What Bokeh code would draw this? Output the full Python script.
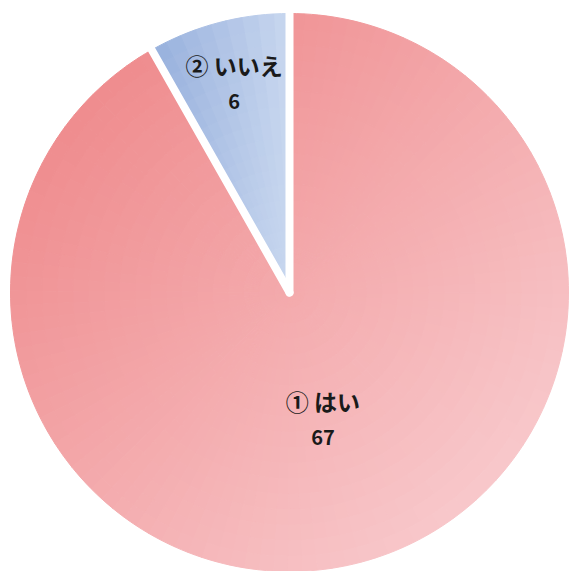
import math
from bokeh.plotting import figure
from bokeh.models import ColumnDataSource, Range1d
from bokeh.core.properties import value
from bokeh.embed import file_html
from bokeh.resources import INLINE

# Survey answers
labels = ["① はい", "② いいえ"]
counts = [67, 6]

W = H = 571
CX, CY, R = 289, 292, 279  # pie centre and radius in screen pixels

p = figure(width=W, height=H, output_backend="svg", toolbar_location=None,
           x_range=Range1d(-CX / R, (W - CX) / R),
           y_range=Range1d(-(H - CY) / R, CY / R),
           min_border=0)
p.axis.visible = False
p.grid.visible = False
p.outline_line_color = None
p.background_fill_color = "white"
p.border_fill_color = "white"

total = sum(counts)
# first slice runs clockwise from twelve o'clock
spans = []
end = math.pi / 2 + 2 * math.pi
for c in counts:
    start = end - 2 * math.pi * c / total
    spans.append((start, end))
    end = start


def lerp(c0, c1, t):
    t = max(0.0, min(1.0, t))
    return "#%02x%02x%02x" % tuple(round(a + (b - a) * t) for a, b in zip(c0, c1))


def pink(x, y):
    t = ((x - y) / math.sqrt(2) + 1) / 2
    return lerp((239, 140, 142), (248, 200, 203), t)


def blue(x, y):
    t = (x + 0.5) / 0.5
    return lerp((150, 175, 220), (200, 215, 239), t)


shaders = [pink, blue]

# each slice is tiled into small annular cells so its fill can shade smoothly
cells = dict(inner=[], outer=[], a0=[], a1=[], color=[])
rings = 18
for (a0, a1), shade in zip(spans, shaders):
    nseg = max(4, int(math.degrees(a1 - a0) / 3))
    for i in range(rings):
        r0 = i / rings
        r1 = (i + 1) / rings
        for j in range(nseg):
            s0 = a0 + (a1 - a0) * j / nseg
            s1 = a0 + (a1 - a0) * (j + 1) / nseg
            rm = (r0 + r1) / 2
            am = (s0 + s1) / 2
            cells["inner"].append(r0)
            cells["outer"].append(r1)
            cells["a0"].append(s0)
            cells["a1"].append(s1)
            cells["color"].append(shade(rm * math.cos(am), rm * math.sin(am)))

p.annular_wedge(x=0, y=0, inner_radius="inner", outer_radius="outer",
                start_angle="a0", end_angle="a1", source=ColumnDataSource(cells),
                fill_color="color", line_color="color", line_width=1)

# white separators between slices
bounds = [s[1] for s in spans]
p.segment(x0=[0] * len(bounds), y0=[0] * len(bounds),
          x1=[1.03 * math.cos(a) for a in bounds],
          y1=[1.03 * math.sin(a) for a in bounds],
          line_color="white", line_width=8, line_cap="round")

# slice labels: name above, count below
lab_r = [0.47, 0.776]
lx, ly = [], []
for (a0, a1), rr in zip(spans, lab_r):
    am = (a0 + a1) / 2
    lx.append(rr * math.cos(am))
    ly.append(rr * math.sin(am))

src = ColumnDataSource(dict(x=lx, y=ly, name=labels, num=[str(c) for c in counts]))
font = value("Noto Sans CJK JP")
p.text(x="x", y="y", text="name", source=src, text_font=font, text_font_size="23px",
       text_font_style="bold", text_color="#1a1a1a", text_align="center",
       text_baseline="middle", y_offset=-18)
p.text(x="x", y="y", text="num", source=src, text_font=font, text_font_size="20px",
       text_font_style="bold", text_color="#1a1a1a", text_align="center",
       text_baseline="middle", y_offset=18)

open("out.html", "w").write(file_html(p, INLINE))
